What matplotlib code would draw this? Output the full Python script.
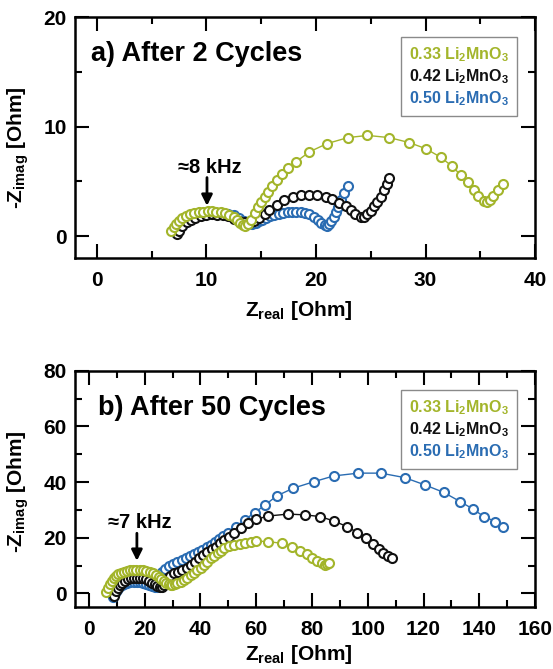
import numpy as np
import matplotlib
matplotlib.use("Agg")
import matplotlib.pyplot as plt
from matplotlib.lines import Line2D
from matplotlib.ticker import MultipleLocator

plt.rcParams['font.family'] = ['Liberation Sans', 'DejaVu Sans']
plt.rcParams['font.weight'] = 'bold'
plt.rcParams['mathtext.fontset'] = 'custom'
plt.rcParams['mathtext.rm'] = 'Liberation Sans:bold'
plt.rcParams['mathtext.it'] = 'Liberation Sans:bold'
plt.rcParams['mathtext.bf'] = 'Liberation Sans:bold'
plt.rcParams['mathtext.default'] = 'rm'

#Colores
verde = '#a3b52b'
negro = '#111111'
azul = '#2a6cb2'

etiquetas = ['0.33 Li$_2$MnO$_3$', '0.42 Li$_2$MnO$_3$', '0.50 Li$_2$MnO$_3$']

#Datos a) 2 ciclos
a_verde_x = [6.8, 7.0, 7.2, 7.5, 7.8, 8.1, 8.5, 8.9, 9.3, 9.7, 10.1, 10.5, 10.9, 11.3, 11.7,
             12.1, 12.5, 12.8, 13.1, 13.3, 13.5, 13.8, 14.1, 14.4, 14.7, 15.0, 15.3, 15.6, 16.0,
             16.4, 16.9, 17.4, 18.2, 19.4, 21.0, 22.9, 24.7, 26.7, 28.5, 30.0, 31.4, 32.4, 33.2,
             33.9, 34.4, 34.8, 35.3, 35.6, 35.9, 36.2, 36.6, 37.1]
a_verde_y = [0.45, 0.8, 1.1, 1.4, 1.65, 1.85, 2.0, 2.12, 2.2, 2.25, 2.28, 2.28, 2.25, 2.2, 2.1,
             1.95, 1.75, 1.5, 1.2, 1.0, 0.9, 1.15, 1.5, 2.1, 2.7, 3.15, 3.6, 4.05, 4.6,
             5.1, 5.65, 6.2, 6.8, 7.7, 8.45, 9.0, 9.2, 9.0, 8.55, 8.0, 7.2, 6.4, 5.6,
             4.9, 4.2, 3.65, 3.25, 3.1, 3.3, 3.65, 4.2, 4.8]

a_negro_x = [7.3, 7.5, 7.8, 8.2, 8.6, 9.0, 9.5, 10.0, 10.5, 11.0, 11.5, 12.0, 12.5, 13.0, 13.5,
             13.9, 14.3, 14.8, 15.3, 15.75, 16.4, 17.1, 17.9, 18.6, 19.4, 20.1, 20.9, 21.5, 22.1,
             22.7, 23.2, 23.6, 24.1, 24.4, 24.7, 25.0, 25.3, 25.6, 25.9, 26.2, 26.5, 26.7]
a_negro_y = [0.15, 0.5, 0.9, 1.25, 1.5, 1.7, 1.85, 1.95, 1.98, 1.95, 1.9, 1.8, 1.6, 1.4, 1.25,
             1.2, 1.35, 1.65, 2.0, 2.4, 2.86, 3.3, 3.6, 3.76, 3.8, 3.76, 3.6, 3.37, 3.06,
             2.77, 2.4, 2.05, 1.75, 1.75, 2.05, 2.34, 2.77, 3.15, 3.6, 4.2, 4.8, 5.35]

a_azul_x = [7.2, 7.5, 7.9, 8.4, 9.0, 9.6, 10.2, 10.8, 11.4, 12.0, 12.5, 13.0, 13.4, 13.8,
            14.2, 14.5, 14.8, 15.1, 15.4, 15.8, 16.2, 16.6, 17.0, 17.4, 17.8, 18.2, 18.6, 19.0,
            19.4, 19.8, 20.2, 20.5, 20.8, 21.0, 21.2, 21.4, 21.6, 21.8, 22.0, 22.3, 22.6, 22.9]
a_azul_y = [0.3, 0.7, 1.1, 1.45, 1.75, 1.95, 2.05, 2.1, 2.1, 2.05, 1.9, 1.65, 1.4, 1.2,
            1.1, 1.2, 1.35, 1.5, 1.65, 1.8, 1.92, 2.03, 2.12, 2.2, 2.23, 2.23, 2.2, 2.12,
            1.98, 1.78, 1.5, 1.2, 0.98, 0.92, 1.1, 1.4, 1.75, 2.2, 2.7, 3.3, 3.9, 4.6]

#Datos b) 50 ciclos
b_verde_x = [6.3, 6.8, 7.4, 8.1, 8.9, 9.7, 10.5, 11.5, 12.5, 13.5, 14.6, 15.8, 17.0, 18.2,
             19.4, 20.6, 21.8, 22.9, 24.0, 25.0, 26.0, 26.9, 27.8, 28.6, 29.3, 29.9, 30.8, 31.7,
             32.9, 34.1, 35.3, 36.5, 37.7, 38.9, 40.1, 41.3, 42.5, 43.7, 45.0, 46.2, 47.4, 48.6,
             50.4, 52.2, 54.0, 55.8, 58.0, 60.0, 64.3, 69.1, 72.7, 75.7, 78.2, 80.0, 81.8, 83.6,
             84.6, 85.4, 86.2]
b_verde_y = [0.6, 1.8, 3.2, 4.6, 5.6, 6.3, 6.9, 7.4, 7.8, 8.1, 8.3, 8.45, 8.5, 8.45,
             8.3, 8.05, 7.7, 7.2, 6.6, 5.9, 5.2, 4.5, 3.9, 3.4, 3.1, 3.0, 3.2, 3.6,
             4.2, 4.8, 5.7, 6.6, 7.5, 8.4, 9.3, 10.2, 11.4, 12.6, 13.5, 14.4, 15.3, 16.2,
             16.9, 17.4, 17.8, 18.2, 18.6, 18.8, 18.6, 18.0, 16.5, 15.3, 14.0, 12.6, 11.7, 10.8,
             10.2, 10.5, 11.0]

b_negro_x = [9.0, 9.6, 10.3, 11.1, 12.0, 13.0, 14.0, 15.1, 16.2, 17.3, 18.4, 19.5, 20.6, 21.6,
             22.6, 23.6, 24.5, 25.4, 26.2, 26.8, 27.5, 28.2, 29.2, 30.4, 31.9, 33.5, 35.0, 36.5,
             38.0, 39.5, 41.0, 42.5, 44.0, 45.5, 47.0, 48.6, 50.4, 52.2, 54.6, 57.0, 60.0, 64.3,
             71.5, 77.5, 83.0, 87.8, 92.6, 96.3, 99.3, 101.7, 103.9, 105.6, 107.1, 108.7]
b_negro_y = [-0.8, 0.8, 2.0, 3.0, 3.8, 4.5, 5.0, 5.4, 5.6, 5.7, 5.6, 5.4, 5.0, 4.5,
             3.9, 3.3, 2.8, 2.4, 2.3, 3.0, 4.3, 5.4, 6.3, 7.2, 7.8, 8.4, 9.3, 10.2,
             11.4, 12.6, 13.8, 15.0, 15.9, 16.8, 18.0, 19.2, 20.4, 21.6, 23.4, 25.2, 26.6, 27.8,
             28.5, 28.2, 27.6, 26.0, 24.0, 21.8, 19.8, 17.7, 15.8, 14.4, 13.4, 12.8]

b_azul_x = [8.7, 9.3, 10.0, 10.8, 11.7, 12.7, 13.8, 14.9, 16.0, 17.1, 18.2, 19.3, 20.4, 21.5,
            22.6, 23.6, 24.5, 25.2, 25.7, 26.2, 27.4, 28.6, 30.1, 31.7, 33.2, 34.7, 36.2, 37.7,
            39.2, 40.7, 42.2, 43.7, 45.2, 46.7, 48.2, 49.8, 52.8, 55.8, 59.4, 63.0, 67.3, 73.3,
            80.6, 87.8, 96.6, 104.7, 113.2, 120.4, 127.2, 133.1, 137.9, 141.6, 145.8, 148.6]
b_azul_y = [-1.2, 0.2, 1.3, 2.2, 2.9, 3.4, 3.8, 4.0, 4.1, 4.1, 4.0, 3.8, 3.5, 3.1,
            2.7, 2.4, 2.3, 4.0, 6.0, 7.8, 8.9, 9.8, 10.6, 11.4, 12.0, 12.6, 13.4, 14.1,
            14.9, 15.6, 16.5, 17.4, 18.4, 19.4, 20.5, 21.6, 24.0, 26.4, 29.0, 31.6, 35.0, 37.8,
            40.1, 42.2, 43.2, 43.2, 41.6, 39.0, 36.3, 33.0, 30.2, 27.6, 25.8, 24.0]


def panel(ax, series, titulo, titulo_xy, xlim, ylim, xmaj, xmin, ymaj, ymin, nota, nota_xy, flecha):
    # azul abajo, verde arriba
    for (x, y, c) in series:
        ax.plot(x, y, '-', color=c, lw=1.0, marker='o', ms=6.5, mew=1.5,
                mfc='white', mec=c)
    ax.set_xlim(*xlim)
    ax.set_ylim(*ylim)
    ax.xaxis.set_major_locator(MultipleLocator(xmaj))
    ax.xaxis.set_minor_locator(MultipleLocator(xmin))
    ax.yaxis.set_major_locator(MultipleLocator(ymaj))
    ax.yaxis.set_minor_locator(MultipleLocator(ymin))
    ax.tick_params(which='both', direction='in', top=True, right=True, width=1.5)
    ax.tick_params(which='major', length=10, labelsize=15)
    ax.tick_params(which='minor', length=5)
    ax.tick_params(axis='x', which='major', pad=9)
    ax.tick_params(axis='y', which='major', pad=6)
    for s in ax.spines.values():
        s.set_linewidth(1.8)
    for lab in ax.get_xticklabels() + ax.get_yticklabels():
        lab.set_fontweight('bold')

    ax.text(titulo_xy[0], titulo_xy[1], titulo, transform=ax.transAxes, fontsize=19.5,
            fontweight='bold', va='baseline', ha='left')

    ax.set_xlabel('Z$_{real}$ [Ohm]', fontsize=15, fontweight='bold')
    ax.set_ylabel('-Z$_{imag}$ [Ohm]', fontsize=15, fontweight='bold')

    ax.text(nota_xy[0], nota_xy[1], nota, fontsize=14.5, fontweight='bold',
            ha='center', va='baseline')
    ax.annotate('', xy=flecha[1], xytext=flecha[0],
                arrowprops=dict(arrowstyle='-|>', color='black', lw=2,
                                mutation_scale=16, shrinkA=0, shrinkB=0))

    handles = [Line2D([], [], linestyle='none') for _ in etiquetas]
    leg = ax.legend(handles, etiquetas, loc='upper right', bbox_to_anchor=(0.960, 0.918),
                    borderaxespad=0, handlelength=0, handletextpad=0, fancybox=False,
                    framealpha=1, edgecolor='#8a8a8a', labelspacing=0.22, borderpad=0.5,
                    prop={'size': 11.5, 'weight': 'bold'})
    leg.get_frame().set_linewidth(1.0)
    for t, c in zip(leg.get_texts(), [verde, negro, azul]):
        t.set_color(c)


fig = plt.figure(figsize=(5.53, 6.69), dpi=100)
ax1 = fig.add_axes([0.1356, 0.6143, 0.832, 0.360])
ax2 = fig.add_axes([0.1356, 0.0922, 0.832, 0.3537])

panel(ax1,
      [(a_azul_x, a_azul_y, azul), (a_negro_x, a_negro_y, negro), (a_verde_x, a_verde_y, verde)],
      'a) After 2 Cycles', (0.034, 0.817), (-2, 40), (-2, 20), 10, 5, 10, 5,
      '≈8 kHz', (10.3, 5.77), [(10.05, 5.35), (10.05, 2.77)])
panel(ax2,
      [(b_azul_x, b_azul_y, azul), (b_negro_x, b_negro_y, negro), (b_verde_x, b_verde_y, verde)],
      'b) After 50 Cycles', (0.051, 0.813), (-5, 160), (-5, 80), 20, 10, 20, 10,
      '≈7 kHz', (18.4, 23.4), [(17.2, 21.6), (17.2, 11.7)])

ax1.xaxis.set_label_coords(0.487, -0.17)
ax1.yaxis.set_label_coords(-0.095, 0.46)
ax2.xaxis.set_label_coords(0.487, -0.15)
ax2.yaxis.set_label_coords(-0.095, 0.49)

fig.savefig('out.png', dpi=100)
